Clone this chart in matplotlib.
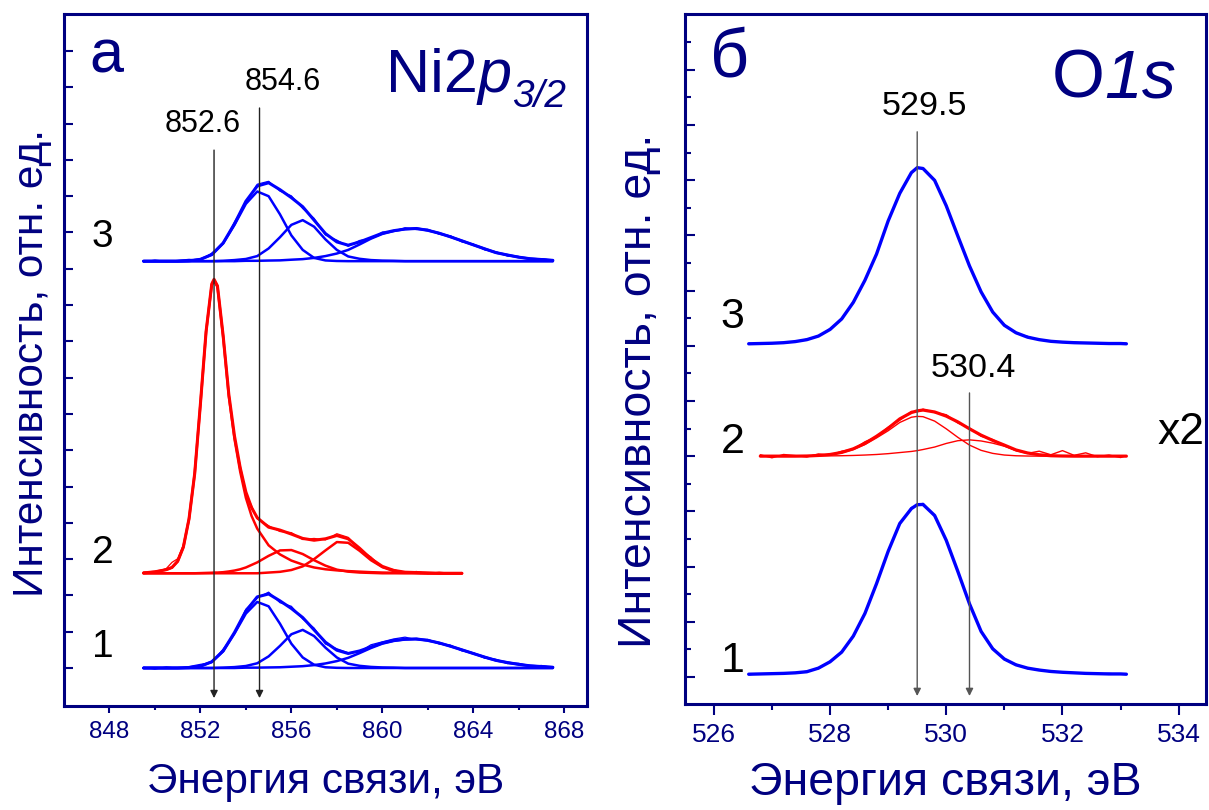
import matplotlib
matplotlib.use('Agg')
import matplotlib.pyplot as plt

plt.rcParams['font.family'] = ['Liberation Sans', 'DejaVu Sans']
plt.rcParams['lines.solid_joinstyle'] = 'round'
plt.rcParams['lines.solid_capstyle'] = 'round'

NAVY = '#000080'
BLUE = '#0000ff'
RED = '#ff0000'

# ---------------- Ni2p3/2 (panel a) ----------------
ni_x = [849.5, 850.0, 850.5, 851.0, 851.5, 852.0, 852.5, 853.0, 853.5, 854.0,
        854.5, 855.0, 855.5, 856.0, 856.5, 857.0, 857.5, 858.0, 858.5, 859.0,
        859.5, 860.0, 860.5, 861.0, 861.5, 862.0, 862.5, 863.0, 863.5, 864.0,
        864.5, 865.0, 865.5, 866.0, 866.5, 867.0, 867.5]

# spectrum 1 (blue, bottom)
ni1_raw = [0.02, -0.03, 0.03, -0.01, 0.04, 0.10, 0.15, 0.52, 0.95, 1.62, 1.93, 2.09, 1.80,
           1.70, 1.35, 1.10, 0.66, 0.53, 0.42, 0.45, 0.64, 0.72, 0.80, 0.85, 0.78, 0.79,
           0.66, 0.63, 0.47, 0.42, 0.27, 0.24, 0.12, 0.13, 0.04, 0.07, 0.01]
ni1_fit = [0, 0, 0, 0, 0.01, 0.05, 0.17, 0.47, 0.98, 1.57, 1.96, 2.04, 1.85, 1.64, 1.39,
           1.05, 0.71, 0.49, 0.40, 0.47, 0.58, 0.69, 0.76, 0.79, 0.80, 0.76, 0.69, 0.60,
           0.50, 0.40, 0.30, 0.21, 0.15, 0.10, 0.06, 0.04, 0.02]
ni1_a = [0, 0, 0, 0, 0.01, 0.05, 0.17, 0.46, 0.95, 1.50, 1.82, 1.70, 1.22, 0.67, 0.29, 0.09,
         0.02, 0.005] + [0] * 19
ni1_b = [0] * 7 + [0.01, 0.025, 0.055, 0.13, 0.32, 0.61, 0.93, 1.05, 0.88, 0.56, 0.29, 0.12,
                   0.06, 0.03, 0.015, 0.01] + [0] * 14
ni1_c = [0] * 9 + [0.01, 0.01, 0.015, 0.02, 0.035, 0.05, 0.08, 0.125, 0.19, 0.28, 0.41, 0.55,
                   0.67, 0.745, 0.79, 0.80, 0.76, 0.69, 0.60, 0.50, 0.40, 0.30, 0.21, 0.15,
                   0.10, 0.06, 0.04, 0.02]

# spectrum 3 (blue, top)
ni3_raw = [-0.02, 0.03, -0.01, 0.02, 0.05, 0.03, 0.22, 0.48, 1.08, 1.61, 2.12, 2.20, 1.93,
           1.80, 1.45, 1.18, 0.72, 0.58, 0.41, 0.57, 0.62, 0.80, 0.82, 0.92, 0.87, 0.88,
           0.74, 0.70, 0.53, 0.47, 0.31, 0.26, 0.14, 0.13, 0.05, 0.07, 0.02]
ni3_fit = [0, 0, 0, 0, 0.01, 0.05, 0.18, 0.50, 1.03, 1.65, 2.07, 2.16, 1.97, 1.75, 1.50,
           1.13, 0.76, 0.53, 0.44, 0.53, 0.65, 0.77, 0.84, 0.885, 0.90, 0.85, 0.77, 0.67,
           0.56, 0.45, 0.34, 0.235, 0.17, 0.11, 0.067, 0.045, 0.022]
ni3_a = [0, 0, 0, 0, 0.01, 0.05, 0.18, 0.49, 1.00, 1.58, 1.92, 1.79, 1.29, 0.71, 0.31, 0.09,
         0.02, 0.005] + [0] * 19
ni3_b = [0] * 7 + [0.01, 0.03, 0.06, 0.14, 0.35, 0.66, 1.00, 1.13, 0.95, 0.60, 0.31, 0.13,
                   0.065, 0.03, 0.015, 0.01] + [0] * 14
ni3_c = [0] * 9 + [0.01, 0.01, 0.017, 0.022, 0.04, 0.056, 0.09, 0.14, 0.21, 0.31, 0.46, 0.62,
                   0.75, 0.83, 0.885, 0.90, 0.85, 0.77, 0.67, 0.56, 0.45, 0.34, 0.235, 0.17,
                   0.11, 0.067, 0.045, 0.022]

# spectrum 2 (red)
ni2_x = [849.5, 850.0, 850.5, 850.75, 851.0, 851.25, 851.5, 851.75, 852.0, 852.25, 852.5,
         852.6, 852.75, 853.0, 853.25, 853.5, 853.75, 854.0, 854.25, 854.5, 855.0, 855.5,
         856.0, 856.5, 857.0, 857.5, 858.0, 858.5, 859.0, 859.5, 860.0, 860.5, 861.0,
         861.5, 862.0, 862.5, 863.0, 863.5]
ni2_raw = [0.03, 0.02, 0.13, 0.30, 0.40, 0.78, 1.45, 2.80, 4.60, 6.70, 7.90, 8.05, 7.85,
           6.62, 4.98, 3.72, 2.98, 2.20, 1.86, 1.50, 1.31, 1.15, 1.12, 0.93, 0.96, 0.92,
           1.09, 0.99, 0.66, 0.45, 0.16, 0.10, 0.01, 0.05, -0.01, 0.03, 0.0, 0.02]
ni2_fit = [0.01, 0.04, 0.10, 0.16, 0.33, 0.72, 1.50, 2.75, 4.66, 6.66, 7.97, 8.10, 7.92,
           6.55, 4.93, 3.78, 2.91, 2.24, 1.81, 1.53, 1.27, 1.19, 1.08, 0.96, 0.91, 0.95,
           1.04, 0.95, 0.69, 0.40, 0.19, 0.08, 0.03, 0.02, 0.01, 0, 0, 0]
ni2_a = [0.01, 0.04, 0.10, 0.16, 0.33, 0.72, 1.50, 2.75, 4.65, 6.65, 7.95, 8.08, 7.90,
         6.52, 4.88, 3.70, 2.80, 2.08, 1.58, 1.23, 0.77, 0.52, 0.35, 0.24, 0.16, 0.11,
         0.08, 0.06, 0.045, 0.03, 0.02, 0.015, 0.01, 0.01, 0.005, 0, 0, 0]
ni2_b = [0] * 8 + [0.005, 0.01, 0.015, 0.02, 0.02, 0.03, 0.05, 0.075, 0.11, 0.16, 0.23, 0.30,
                   0.48, 0.63, 0.64, 0.53, 0.36, 0.21, 0.10, 0.045, 0.02, 0.01] + [0] * 8
ni2_c = [0] * 20 + [0.02, 0.04, 0.09, 0.19, 0.39, 0.63, 0.86, 0.84, 0.62, 0.36, 0.17, 0.06,
                    0.02, 0.01] + [0] * 4

ni_base = [0.0, 2.61, 11.21]          # vertical offsets of spectra 1, 2, 3
ni_marks = [852.6, 854.6]

# ---------------- O1s (panel b) ----------------
o_x = [526.6, 526.8, 527.0, 527.2, 527.4, 527.6, 527.8, 528.0, 528.2, 528.4, 528.6, 528.8,
       529.0, 529.2, 529.4, 529.5, 529.6, 529.8, 530.0, 530.2, 530.4, 530.6, 530.8, 531.0,
       531.2, 531.4, 531.6, 531.8, 532.0, 532.2, 532.4, 532.6, 532.8, 533.0, 533.1]
o1_fit = [0, 0.01, 0.02, 0.03, 0.05, 0.09, 0.22, 0.45, 0.80, 1.38, 2.20, 3.28, 4.45, 5.46,
          6.00, 6.14, 6.15, 5.75, 4.85, 3.72, 2.55, 1.55, 0.92, 0.55, 0.34, 0.22, 0.15,
          0.10, 0.07, 0.05, 0.03, 0.02, 0.01, 0.01, 0]
o1_raw = [-0.02, 0.02, 0.0, 0.04, 0.04, 0.11, 0.20, 0.47, 0.83, 1.35, 2.23, 3.25, 4.48,
          5.43, 6.04, 6.10, 6.19, 5.72, 4.88, 3.70, 2.58, 1.53, 0.95, 0.52, 0.36, 0.20,
          0.17, 0.08, 0.09, 0.04, 0.05, 0.01, 0.03, 0.0, 0.01]
o3_fit = [0, 0.01, 0.02, 0.04, 0.08, 0.15, 0.28, 0.52, 0.90, 1.50, 2.30, 3.25, 4.45, 5.45,
          6.20, 6.38, 6.35, 5.92, 5.00, 3.90, 2.82, 1.88, 1.15, 0.67, 0.40, 0.24, 0.15,
          0.09, 0.06, 0.04, 0.03, 0.02, 0.01, 0.01, 0]
o3_raw = [0.02, -0.02, 0.03, 0.03, 0.07, 0.17, 0.27, 0.55, 0.88, 1.53, 2.28, 3.28, 4.42,
          5.48, 6.18, 6.40, 6.33, 5.95, 4.97, 3.93, 2.80, 1.90, 1.13, 0.70, 0.38, 0.27,
          0.13, 0.11, 0.05, 0.06, 0.02, 0.04, 0.0, 0.02, 0.01]

o2_x = o_x[1:]
o2_raw = [0.05, -0.06, 0.06, 0.02, -0.03, 0.08, 0.03, 0.18, 0.25, 0.52, 0.70, 1.05, 1.30,
          1.62, 1.60, 1.70, 1.58, 1.50, 1.20, 1.02, 0.72, 0.60, 0.38, 0.20, 0.10, 0.18,
          0.05, 0.20, 0.03, 0.12, -0.02, 0.04, -0.05, 0.02]
o2_fit = [0, 0, 0, 0, 0.005, 0.025, 0.06, 0.135, 0.265, 0.46, 0.72, 1.01, 1.35, 1.58, 1.64,
          1.67, 1.60, 1.45, 1.24, 0.99, 0.76, 0.57, 0.40, 0.224, 0.114, 0.05, 0.015, 0.005,
          0, 0, 0, 0, 0, 0]
o2_a = [0, 0, 0, 0, 0.005, 0.02, 0.05, 0.12, 0.24, 0.42, 0.66, 0.92, 1.22, 1.41, 1.44,
        1.43, 1.27, 0.99, 0.68, 0.40, 0.21, 0.10, 0.04, 0.014, 0.004, 0, 0, 0, 0, 0, 0, 0,
        0, 0]
o2_b = [0, 0, 0, 0, 0, 0.005, 0.01, 0.015, 0.025, 0.04, 0.06, 0.09, 0.13, 0.17, 0.20, 0.24,
        0.33, 0.46, 0.56, 0.59, 0.55, 0.47, 0.36, 0.21, 0.11, 0.05, 0.015, 0.005, 0, 0, 0,
        0, 0, 0]

o_base = [0.1, 8.0, 12.07]
o_marks = [529.5, 530.4]


def shift(vals, b):
    return [v + b for v in vals]


def style_axes(ax):
    for s in ax.spines.values():
        s.set_color(NAVY)
        s.set_linewidth(2.2)


fig = plt.figure(figsize=(12.09, 8.10), dpi=100)
ax1 = fig.add_axes([0.0529, 0.1284, 0.4326, 0.8543])
ax2 = fig.add_axes([0.5666, 0.1309, 0.4309, 0.8519])

# ---- panel a ----
ni_sets = [
    (ni_x, ni1_raw, [ni1_a, ni1_b, ni1_c], ni1_fit, ni_base[0], BLUE),
    (ni2_x, ni2_raw, [ni2_a, ni2_b, ni2_c], ni2_fit, ni_base[1], RED),
    (ni_x, ni3_raw, [ni3_a, ni3_b, ni3_c], ni3_fit, ni_base[2], BLUE),
]
for xs, raw, comps, fit, b, col in ni_sets:
    ax1.plot(xs, shift(raw, b), color=col, lw=0.9)
    for c in comps:
        ax1.plot(xs, shift(c, b), color=col, lw=1.8)
    ax1.plot(xs, shift(fit, b), color=col, lw=2.2)

for e, top in zip(ni_marks, [14.27, 15.43]):
    ax1.annotate('', xy=(e, -0.83), xytext=(e, top),
                 arrowprops=dict(arrowstyle='-|>', color='#222222', lw=1.0,
                                 mutation_scale=11, shrinkA=0, shrinkB=0))
ax1.text(852.09, 14.77, '852.6', fontsize=22, ha='center', va='baseline')
ax1.text(855.63, 15.92, '854.6', fontsize=22, ha='center', va='baseline')

for lab, y in zip(['1', '2', '3'], [0.31, 2.88, 11.61]):
    ax1.text(847.7, y, lab, fontsize=28, ha='center', va='baseline')

ax1.text(847.12, 16.42, 'а', fontsize=44, color=NAVY, ha='left', va='baseline')
# Ni2p3/2 built from pieces so that p and 3/2 are italic
sub = ax1.text(868.07, 15.45, '3/2', fontsize=28, fontstyle='italic', color=NAVY,
               ha='right', va='baseline')
pp = ax1.annotate('p', xy=(0, 15.87), xycoords=(sub, 'data'), fontsize=44,
                  fontstyle='italic', color=NAVY, ha='right', va='baseline')
ax1.annotate('Ni2', xy=(0, 15.87), xycoords=(pp, 'data'), fontsize=44, color=NAVY,
             ha='right', va='baseline')

ax1.set_xlim(846, 869)
ax1.set_ylim(-1.047, 18.02)
ax1.set_xticks([848, 852, 856, 860, 864, 868])
ax1.set_xticks([850, 854, 858, 862, 866], minor=True)
ax1.set_yticks(range(0, 18))
ax1.tick_params(axis='y', direction='in', length=6.5, width=1.5, color=NAVY, labelleft=False)
ax1.tick_params(axis='x', which='major', direction='out', length=5, width=1.5, color=NAVY,
                labelsize=17.5, labelcolor=NAVY, pad=6)
ax1.tick_params(axis='x', which='minor', direction='out', length=3, width=1.5, color=NAVY)
style_axes(ax1)

# ---- panel b ----
ax2.plot(o_x, shift(o1_raw, o_base[0]), color=BLUE, lw=0.9)
ax2.plot(o_x, shift(o1_fit, o_base[0]), color=BLUE, lw=2.4)
ax2.plot(o2_x, shift(o2_raw, o_base[1]), color=RED, lw=1.0)
ax2.plot(o2_x, shift(o2_a, o_base[1]), color=RED, lw=1.0)
ax2.plot(o2_x, shift(o2_b, o_base[1]), color=RED, lw=1.0)
ax2.plot(o2_x, shift(o2_fit, o_base[1]), color=RED, lw=2.3)
ax2.plot(o_x, shift(o3_raw, o_base[2]), color=BLUE, lw=0.9)
ax2.plot(o_x, shift(o3_fit, o_base[2]), color=BLUE, lw=2.4)

for e, top in zip(o_marks, [19.75, 10.29]):
    ax2.annotate('', xy=(e, -0.69), xytext=(e, top),
                 arrowprops=dict(arrowstyle='-|>', color='#555555', lw=1.0,
                                 mutation_scale=11, shrinkA=0, shrinkB=0))
ax2.text(529.62, 20.36, '529.5', fontsize=24.5, ha='center', va='baseline')
ax2.text(530.46, 10.87, '530.4', fontsize=24.5, ha='center', va='baseline')

for lab, y in zip(['1', '2', '3'], [0.19, 8.11, 12.63]):
    ax2.text(526.32, y, lab, fontsize=31, ha='center', va='baseline')
ax2.text(534.44, 8.45, 'x2', fontsize=32, ha='right', va='baseline')

ax2.text(525.93, 21.74, 'б', fontsize=49, color=NAVY, ha='left', va='baseline')
o1s = ax2.text(533.96, 20.98, '1s', fontsize=49, fontstyle='italic', color=NAVY,
               ha='right', va='baseline')
ax2.annotate('O', xy=(0, 20.98), xycoords=(o1s, 'data'), fontsize=49, color=NAVY,
             ha='right', va='baseline')

ax2.set_xlim(525.504, 534.47)
ax2.set_ylim(-0.978, 24.02)
ax2.set_xticks([526, 528, 530, 532, 534])
ax2.set_xticks([527, 529, 531, 533], minor=True)
ax2.set_yticks(range(0, 23, 2))
ax2.set_yticks(range(1, 24, 2), minor=True)
ax2.tick_params(axis='y', which='major', direction='in', length=7.5, width=1.5, color=NAVY,
                labelleft=False)
ax2.tick_params(axis='y', which='minor', direction='in', length=4, width=1.5, color=NAVY)
ax2.tick_params(axis='x', which='major', direction='out', length=8, width=1.5, color=NAVY,
                labelsize=19, labelcolor=NAVY, pad=6)
ax2.tick_params(axis='x', which='minor', direction='out', length=4.3, width=1.5, color=NAVY)
style_axes(ax2)

# axis titles
fig.text(325.5 / 1209, 17 / 810, 'Энергия связи, эВ', fontsize=30.5, color=NAVY,
         ha='center', va='baseline')
fig.text(945.5 / 1209, 15 / 810, 'Энергия связи, эВ', fontsize=33.5, color=NAVY,
         ha='center', va='baseline')
fig.text(32 / 1209, 1 - 363 / 810, 'Интенсивность, отн. ед.', fontsize=30.5, color=NAVY,
         rotation=90, ha='center', va='center')
fig.text(639 / 1209, 1 - 391 / 810, 'Интенсивность, отн. ед.', fontsize=33.5, color=NAVY,
         rotation=90, ha='center', va='center')

fig.savefig('out.png', dpi=100)
